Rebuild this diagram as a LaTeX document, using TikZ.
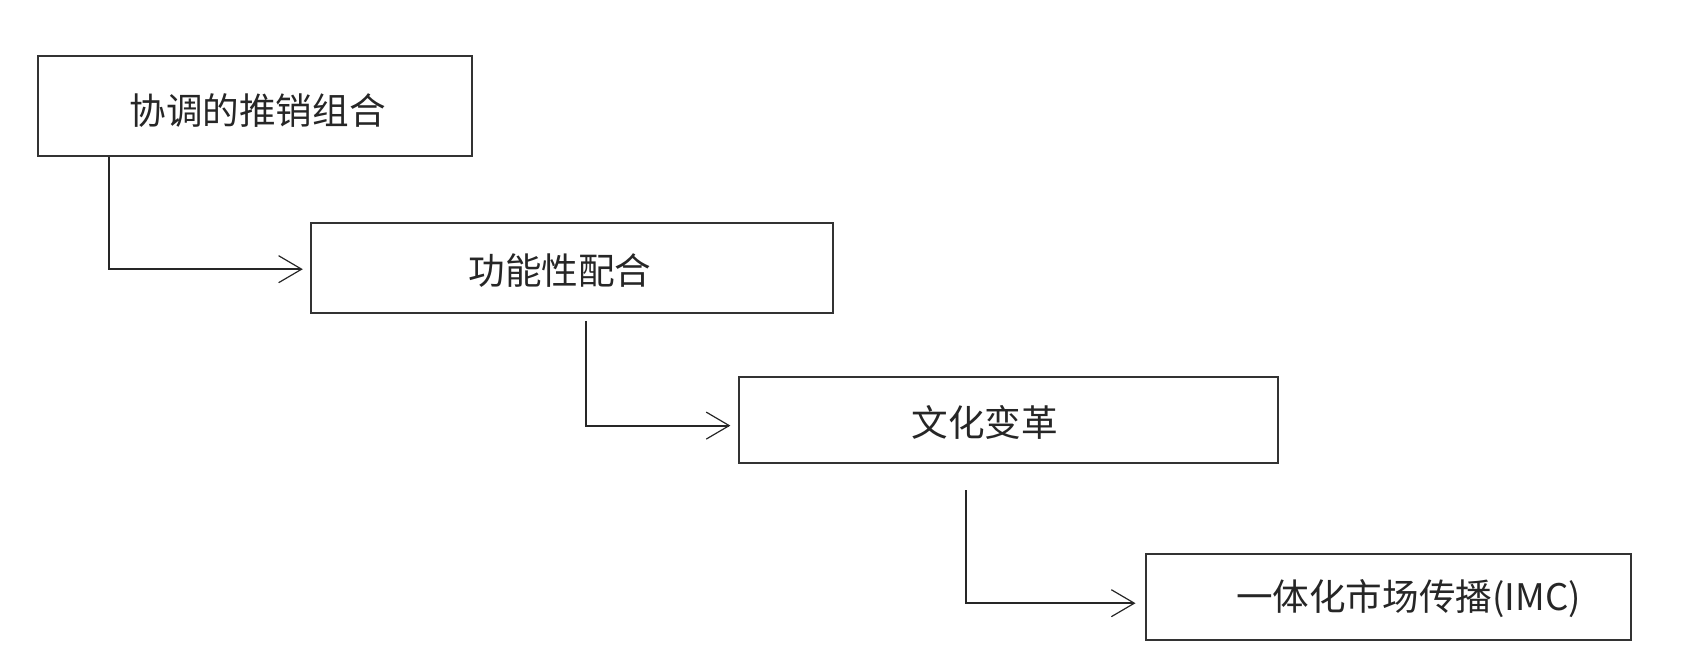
\documentclass[tikz,border=0pt]{standalone}
\usepackage{fontspec}
\newfontfamily\cjk{Noto Sans CJK SC}
\usetikzlibrary{arrows.meta}

\begin{document}
\begin{tikzpicture}[
  x=0.5pt, y=-0.5pt,
  box/.style={draw=black!80, line width=1pt},
  lbl/.style={inner sep=0pt, text=black!85, font=\cjk\fontsize{18.3pt}{22pt}\selectfont},
  arr/.style={-{Straight Barb[length=11.5pt, width=13.5pt, line width=0.6pt]}, line width=1pt, draw=black!85}
]
\useasboundingbox (0,0) rectangle (1689,664);

% boxes
\node[box, minimum width=217pt, minimum height=50pt] (coord) at (254.8,106.1) {};
\node[box, minimum width=260.7pt, minimum height=45.2pt] (func) at (572,268.2) {};
\node[box, minimum width=269.3pt, minimum height=43.1pt] (cult) at (1008.3,420.1) {};
\node[box, minimum width=242.4pt, minimum height=43.1pt] (imc) at (1388.5,596.8) {};

% texts
\node[lbl] (coordtxt) at (257.5,111) {协调的推销组合};
\node[lbl] (functxt) at (560,270.5) {功能性配合};
\node[lbl] (culttxt) at (984.6,422.5) {文化变革};
\node[lbl] (imctxt) at (1408.5,598.5) {一体化市场传播(IMC)};

\coordinate (k1) at (108.8,0);
\coordinate (k2) at (586,0);
\coordinate (k3) at (966.2,0);

\draw[arr, shorten >=3.75pt] (coord.south -| k1) |- ([yshift=-0.5pt]func.west);
\draw[arr, shorten <=3.25pt, shorten >=3.8pt] (func.south -| k2) |- ([yshift=-2.75pt]cult.west);
\draw[arr, shorten <=13pt, shorten >=4.8pt] (cult.south -| k3) |- ([yshift=-3.2pt]imc.west);
\end{tikzpicture}
\end{document}
